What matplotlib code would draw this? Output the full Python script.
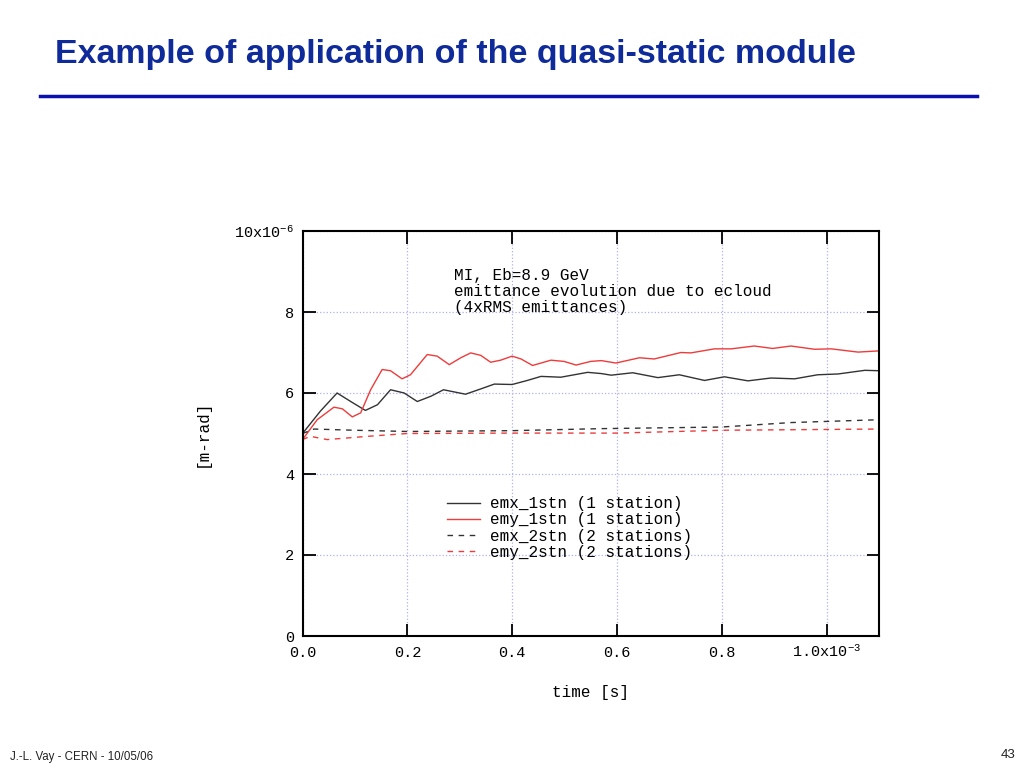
import matplotlib
matplotlib.use("Agg")
import matplotlib.pyplot as plt
from matplotlib.lines import Line2D

plt.rcParams['mathtext.fontset'] = 'custom'
plt.rcParams['mathtext.rm'] = 'Liberation Mono'
plt.rcParams['mathtext.it'] = 'Liberation Mono'

# time in units of 1e-3 s, emittance in units of 1e-6 m-rad
t_emx1 = [0.0, 0.034, 0.066, 0.092, 0.12, 0.143, 0.168, 0.194, 0.219, 0.245, 0.269, 0.292,
          0.311, 0.34, 0.366, 0.4, 0.429, 0.455, 0.493, 0.544, 0.57, 0.589, 0.63, 0.678,
          0.719, 0.767, 0.805, 0.85, 0.894, 0.939, 0.983, 1.022, 1.073, 1.1]
emx1 = [5.0, 5.55, 6.0, 5.79, 5.57, 5.71, 6.08, 6.0, 5.79, 5.92, 6.08, 6.02,
        5.97, 6.1, 6.22, 6.21, 6.31, 6.41, 6.39, 6.51, 6.48, 6.44, 6.5, 6.38,
        6.45, 6.31, 6.4, 6.3, 6.37, 6.35, 6.45, 6.47, 6.56, 6.55]

t_emy1 = [0.0, 0.028, 0.06, 0.076, 0.095, 0.111, 0.13, 0.152, 0.168, 0.19, 0.206, 0.238,
          0.257, 0.28, 0.302, 0.321, 0.34, 0.359, 0.378, 0.4, 0.417, 0.439, 0.474, 0.499,
          0.522, 0.55, 0.57, 0.598, 0.643, 0.671, 0.722, 0.741, 0.786, 0.818, 0.862,
          0.897, 0.932, 0.977, 1.009, 1.06, 1.1]
emy1 = [4.85, 5.34, 5.65, 5.61, 5.41, 5.51, 6.08, 6.58, 6.55, 6.35, 6.45, 6.95,
        6.91, 6.7, 6.87, 6.99, 6.93, 6.76, 6.81, 6.91, 6.84, 6.68, 6.81, 6.78,
        6.69, 6.78, 6.8, 6.74, 6.87, 6.84, 7.0, 6.99, 7.09, 7.09, 7.16,
        7.1, 7.16, 7.08, 7.09, 7.01, 7.04]

t_emx2 = [0.0, 0.022, 0.1, 0.2, 0.4, 0.57, 0.8, 0.932, 1.1]
emx2 = [5.0, 5.11, 5.08, 5.05, 5.07, 5.12, 5.16, 5.27, 5.34]

t_emy2 = [0.0, 0.015, 0.047, 0.124, 0.2, 0.4, 0.6, 0.8, 1.1]
emy2 = [4.85, 4.93, 4.85, 4.93, 5.0, 5.01, 5.01, 5.08, 5.11]

series_labels = ['emx_1stn (1 station)', 'emy_1stn (1 station)',
                 'emx_2stn (2 stations)', 'emy_2stn (2 stations)']

x_ticks = [0.0, 0.2, 0.4, 0.6, 0.8, 1.0]
x_ticklabels = ['0.0', '0.2', '0.4', '0.6', '0.8', '1.0x10$^{-3}$']
y_ticks = [0, 2, 4, 6, 8, 10]
y_ticklabels = ['0', '2', '4', '6', '8', '10x10$^{-6}$']

mono = 'Liberation Mono'
black = '#333333'
red = '#ee3b3b'

fig = plt.figure(figsize=(10.24, 7.68), dpi=100)
fig.patch.set_facecolor('white')

# slide title + rule
fig.text(55 / 1024, 1 - 55 / 768, 'Example of application of the quasi-static module',
         fontsize=24.5, fontweight='bold', color='#0f2a99', family='Liberation Sans',
         ha='left', va='center')
fig.add_artist(Line2D([40 / 1024, 977 / 1024], [1 - 96 / 768, 1 - 96 / 768],
                      color='#0a0fb0', lw=2.5))
fig.text(10 / 1024, 1 - 757 / 768, 'J.-L. Vay - CERN - 10/05/06', fontsize=8.3,
         family='Liberation Sans', color='#222222', ha='left', va='center')
fig.text(1015 / 1024, 1 - 755 / 768, '43', fontsize=9.5, family='Liberation Sans',
         color='#222222', ha='right', va='center')

ax = fig.add_axes([302.5 / 1024, 1 - 636 / 768, 576.5 / 1024, 405 / 768])

ax.plot(t_emx1, emx1, color=black, lw=1.0, label=series_labels[0])
ax.plot(t_emy1, emy1, color=red, lw=1.0, label=series_labels[1])
ax.plot(t_emx2, emx2, color=black, lw=1.0, dashes=(4, 4), label=series_labels[2])
ax.plot(t_emy2, emy2, color=red, lw=1.0, dashes=(4, 4), label=series_labels[3])

ax.set_xlim(0, 1.1)
ax.set_ylim(0, 10)
ax.set_xticks(x_ticks)
ax.set_xticklabels(x_ticklabels)
ax.set_yticks(y_ticks)
ax.set_yticklabels(y_ticklabels)
ax.tick_params(direction='in', length=9, width=1.3, top=True, right=True,
               labelsize=11)
ax.tick_params(axis='y', pad=6)
ax.tick_params(axis='x', pad=15)
for lab in ax.get_xticklabels():
    lab.set_family(mono)
    lab.set_verticalalignment('baseline')
for lab in ax.get_yticklabels():
    lab.set_family(mono)
for s in ax.spines.values():
    s.set_linewidth(1.5)
ax.grid(True, linestyle=':', color='#b0b0f0', lw=0.9)

ax.set_xlabel('time [s]', family=mono, fontsize=11.5)
ax.xaxis.set_label_coords(0.5, -0.121)
ax.set_ylabel('[m-rad]', family=mono, fontsize=11.5)
ax.yaxis.set_label_coords(-0.161, 0.5)

ax.text(0.29, 9.09, 'MI, Eb=8.9 GeV\nemittance evolution due to ecloud\n(4xRMS emittances)',
        family=mono, fontsize=11.5, ha='left', va='top', linespacing=1.1)

leg = ax.legend(loc='upper left', bbox_to_anchor=(0.25, 0.345), frameon=False,
                prop={'family': mono, 'size': 11.5}, borderpad=0, borderaxespad=0,
                handlelength=2.1, handletextpad=0.6, labelspacing=0.07)

fig.savefig('out.png', dpi=100)
